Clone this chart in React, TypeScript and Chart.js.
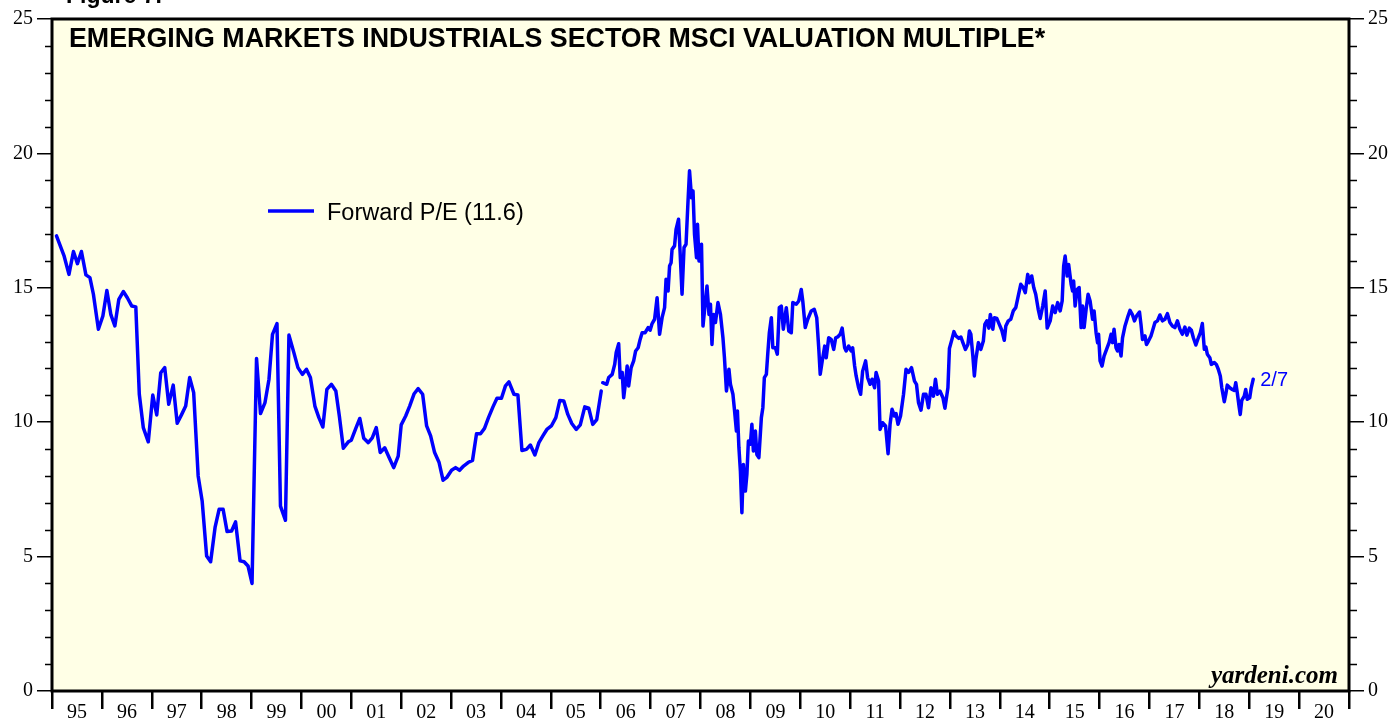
import React, { useEffect, useRef } from 'react';
import { Chart, registerables } from 'chart.js';

Chart.register(...registerables);

// Monthly forward P/E, 1995 - 2005 (decimal year, value)
const monthlyYears = [
  1995.09, 1995.24, 1995.34, 1995.43, 1995.51, 1995.59, 1995.68, 1995.76, 1995.83, 1995.93,
  1996.02, 1996.10, 1996.18, 1996.26, 1996.34, 1996.43, 1996.51, 1996.60, 1996.68, 1996.75,
  1996.83, 1996.93, 1997.02, 1997.10, 1997.18, 1997.26, 1997.34, 1997.43, 1997.51, 1997.60,
  1997.68, 1997.76, 1997.84, 1997.93, 1998.01, 1998.10, 1998.18, 1998.27, 1998.35, 1998.43,
  1998.51, 1998.60, 1998.68, 1998.77, 1998.85, 1998.93, 1999.01, 1999.10, 1999.18, 1999.27,
  1999.35, 1999.42, 1999.51, 1999.58, 1999.68, 1999.75, 1999.85, 1999.93, 2000.02, 2000.10,
  2000.18, 2000.27, 2000.35, 2000.43, 2000.51, 2000.60, 2000.69, 2000.76, 2000.84, 2000.94,
  2001.00, 2001.09, 2001.17, 2001.25, 2001.34, 2001.42, 2001.50, 2001.58, 2001.67, 2001.76,
  2001.85, 2001.94, 2002.00, 2002.09, 2002.17, 2002.26, 2002.34, 2002.43, 2002.51, 2002.59,
  2002.67, 2002.76, 2002.84, 2002.92, 2003.01, 2003.09, 2003.17, 2003.25, 2003.34, 2003.43,
  2003.51, 2003.59, 2003.67, 2003.75, 2003.84, 2003.92, 2004.01, 2004.09, 2004.16, 2004.26,
  2004.34, 2004.42, 2004.51, 2004.59, 2004.68, 2004.76, 2004.84, 2004.92, 2005.01, 2005.10,
  2005.18, 2005.26, 2005.34, 2005.42, 2005.51, 2005.59, 2005.68, 2005.76, 2005.84, 2005.92,
  2006.01,
];
const monthlyPE = [
  16.93, 16.2, 15.5, 16.35, 15.9, 16.35, 15.48, 15.38, 14.76, 13.46,
  13.95, 14.9, 14.0, 13.58, 14.57, 14.86, 14.63, 14.32, 14.29, 11.04,
  9.8, 9.27, 11.01, 10.27, 11.84, 12.03, 10.67, 11.38, 9.96, 10.29,
  10.6, 11.66, 11.1, 8.0, 7.07, 5.02, 4.81, 6.1, 6.76, 6.76,
  5.93, 5.95, 6.29, 4.84, 4.81, 4.65, 4.0, 12.37, 10.32, 10.73,
  11.6, 13.27, 13.67, 6.88, 6.35, 13.24, 12.58, 12.03, 11.78, 11.97,
  11.66, 10.6, 10.17, 9.82, 11.22, 11.41, 11.16, 10.23, 9.03, 9.27,
  9.33, 9.77, 10.14, 9.4, 9.24, 9.42, 9.8, 8.87, 9.05, 8.68,
  8.31, 8.74, 9.9, 10.23, 10.6, 11.06, 11.25, 11.04, 9.86, 9.49,
  8.87, 8.5, 7.84, 7.96, 8.21, 8.31, 8.21, 8.37, 8.5, 8.58,
  9.57, 9.57, 9.77, 10.17, 10.57, 10.89, 10.89, 11.35, 11.5, 11.04,
  11.01, 8.95, 8.99, 9.15, 8.78, 9.24, 9.49, 9.73, 9.86, 10.17,
  10.81, 10.79, 10.29, 9.95, 9.73, 9.9, 10.57, 10.52, 9.92, 10.1,
  11.16,
];

// Weekly forward P/E, 2006 - 2/7/2019 (decimal year, value)
const weeklyYears = [
  2006.04, 2006.12, 2006.16, 2006.23, 2006.28, 2006.31, 2006.36, 2006.39, 2006.43, 2006.46,
  2006.50, 2006.53, 2006.56, 2006.61, 2006.66, 2006.70, 2006.75, 2006.79, 2006.83, 2006.89,
  2006.95, 2006.99, 2007.03, 2007.08, 2007.13, 2007.18, 2007.23, 2007.28, 2007.31, 2007.35,
  2007.38, 2007.41, 2007.43, 2007.48, 2007.51, 2007.56, 2007.59, 2007.63, 2007.67, 2007.71,
  2007.75, 2007.78, 2007.82, 2007.85, 2007.88, 2007.92, 2007.94, 2007.97, 2008.02, 2008.05,
  2008.08, 2008.13, 2008.17, 2008.20, 2008.23, 2008.26, 2008.30, 2008.35, 2008.40, 2008.45,
  2008.48, 2008.52, 2008.57, 2008.60, 2008.65, 2008.68, 2008.72, 2008.74, 2008.77, 2008.80,
  2008.83, 2008.86, 2008.90, 2008.93, 2008.96, 2009.00, 2009.03, 2009.06, 2009.10, 2009.13,
  2009.17, 2009.22, 2009.25, 2009.28, 2009.32, 2009.35, 2009.38, 2009.42, 2009.45, 2009.50,
  2009.54, 2009.58, 2009.62, 2009.66, 2009.72, 2009.77, 2009.82, 2009.85, 2009.92, 2009.97,
  2010.02, 2010.05, 2010.10, 2010.15, 2010.22, 2010.28, 2010.33, 2010.37, 2010.40, 2010.44,
  2010.49, 2010.52, 2010.57, 2010.62, 2010.67, 2010.71, 2010.75, 2010.80, 2010.84, 2010.89,
  2010.92, 2010.97, 2011.02, 2011.05, 2011.09, 2011.12, 2011.17, 2011.21, 2011.25, 2011.31,
  2011.35, 2011.40, 2011.44, 2011.49, 2011.52, 2011.57, 2011.60, 2011.65, 2011.71, 2011.76,
  2011.80, 2011.84, 2011.89, 2011.92, 2011.96, 2012.01, 2012.07, 2012.12, 2012.17, 2012.23,
  2012.29, 2012.33, 2012.37, 2012.42, 2012.47, 2012.52, 2012.57, 2012.62, 2012.67, 2012.71,
  2012.75, 2012.80, 2012.86, 2012.90, 2012.96, 2012.99, 2013.04, 2013.08, 2013.12, 2013.18,
  2013.22, 2013.26, 2013.31, 2013.36, 2013.39, 2013.42, 2013.46, 2013.49, 2013.52, 2013.57,
  2013.62, 2013.67, 2013.70, 2013.74, 2013.78, 2013.81, 2013.86, 2013.89, 2013.94, 2013.99,
  2014.04, 2014.09, 2014.12, 2014.17, 2014.22, 2014.27, 2014.32, 2014.37, 2014.42, 2014.47,
  2014.51, 2014.56, 2014.59, 2014.64, 2014.68, 2014.72, 2014.77, 2014.81, 2014.86, 2014.91,
  2014.95, 2015.01, 2015.06, 2015.11, 2015.16, 2015.21, 2015.25, 2015.28, 2015.31, 2015.35,
  2015.38, 2015.43, 2015.46, 2015.48, 2015.51, 2015.55, 2015.59, 2015.63, 2015.66, 2015.69,
  2015.73, 2015.77, 2015.81, 2015.86, 2015.89, 2015.93, 2015.96, 2015.98, 2016.01, 2016.05,
  2016.09, 2016.14, 2016.19, 2016.23, 2016.26, 2016.29, 2016.33, 2016.36, 2016.39, 2016.43,
  2016.46, 2016.51, 2016.56, 2016.61, 2016.66, 2016.70, 2016.74, 2016.80, 2016.83, 2016.86,
  2016.91, 2016.94, 2016.98, 2017.03, 2017.06, 2017.11, 2017.16, 2017.21, 2017.26, 2017.31,
  2017.36, 2017.41, 2017.46, 2017.51, 2017.56, 2017.61, 2017.66, 2017.71, 2017.75, 2017.80,
  2017.84, 2017.88, 2017.93, 2017.98, 2018.02, 2018.06, 2018.10, 2018.13, 2018.16, 2018.21,
  2018.24, 2018.30, 2018.34, 2018.38, 2018.42, 2018.45, 2018.50, 2018.53, 2018.56, 2018.61,
  2018.66, 2018.70, 2018.73, 2018.76, 2018.80, 2018.82, 2018.85, 2018.90, 2018.93, 2018.96,
  2019.01, 2019.04, 2019.08,
];
const weeklyPE = [
  11.47, 11.41, 11.66, 11.78, 12.15, 12.59, 12.92, 11.66, 11.85, 10.91,
  11.53, 12.09, 11.35, 12.03, 12.28, 12.65, 12.77, 13.08, 13.33, 13.33,
  13.52, 13.42, 13.67, 13.83, 14.63, 13.27, 13.89, 14.26, 15.32, 14.88,
  15.81, 15.93, 16.43, 16.56, 17.17, 17.55, 16.37, 14.76, 16.5, 16.62,
  18.23, 19.35, 18.35, 18.6, 16.99, 16.12, 17.36, 16.0, 16.62, 13.58,
  14.14, 15.07, 14.01, 14.39, 12.89, 14.01, 13.71, 14.45, 14.01, 13.14,
  12.4, 11.16, 11.97, 11.41, 11.04, 10.48, 9.67, 10.42, 9.05, 8.18,
  6.63, 8.43, 7.44, 8.06, 9.3, 9.18, 9.92, 8.93, 9.67, 8.8,
  8.68, 10.17, 10.54, 11.66, 11.78, 12.59, 13.33, 13.89, 12.77, 12.77,
  12.53, 14.26, 14.32, 13.46, 14.26, 13.39, 13.33, 14.45, 14.39, 14.51,
  14.94, 14.51, 13.52, 13.83, 14.14, 14.2, 13.89, 12.77, 11.78, 12.28,
  12.83, 12.4, 13.14, 13.08, 12.71, 13.14, 13.17, 13.27, 13.5, 12.77,
  12.65, 12.83, 12.65, 12.77, 12.09, 11.72, 11.28, 11.04, 11.9, 12.28,
  11.66, 11.41, 11.6, 11.28, 11.85, 11.53, 9.73, 9.98, 9.86, 8.83,
  9.92, 10.48, 10.23, 10.32, 9.92, 10.23, 11.04, 11.97, 11.85, 12.03,
  11.53, 11.41, 10.73, 10.45, 11.04, 11.04, 10.54, 11.28, 10.97, 11.6,
  11.04, 11.16, 10.91, 10.52, 11.28, 12.74, 13.08, 13.37, 13.21, 13.12,
  13.17, 12.96, 12.71, 12.89, 13.39, 13.27, 12.46, 11.72, 12.34, 12.96,
  12.71, 13.02, 13.64, 13.77, 13.5, 14.01, 13.46, 13.89, 13.86, 13.64,
  13.42, 13.05, 13.58, 13.77, 13.83, 14.14, 14.26, 14.7, 15.13, 15.01,
  14.82, 15.5, 15.19, 15.44, 15.01, 14.76, 14.2, 13.86, 14.32, 14.88,
  13.5, 13.77, 14.32, 14.08, 14.45, 14.14, 14.51, 15.81, 16.18, 15.44,
  15.87, 15.13, 14.88, 15.25, 14.32, 14.94, 15.01, 13.52, 14.32, 13.52,
  14.2, 14.76, 14.51, 13.83, 14.14, 13.33, 12.96, 13.27, 12.28, 12.09,
  12.46, 12.71, 12.96, 13.27, 12.96, 13.46, 12.77, 12.65, 12.89, 12.46,
  13.14, 13.58, 13.89, 14.16, 13.99, 13.77, 13.95, 14.1, 13.64, 13.08,
  13.21, 12.89, 13.02, 13.21, 13.39, 13.71, 13.77, 13.99, 13.77, 13.83,
  14.04, 13.71, 13.58, 13.52, 13.77, 13.46, 13.27, 13.54, 13.24, 13.5,
  13.42, 13.14, 12.87, 13.14, 13.33, 13.67, 12.71, 12.8, 12.53, 12.4,
  12.15, 12.22, 12.15, 11.97, 11.72, 11.28, 10.76, 11.04, 11.38, 11.28,
  11.22, 11.18, 11.47, 11.1, 10.54, 10.29, 10.81, 10.97, 11.22, 10.85,
  10.91, 11.28, 11.6,
];

const yearLabels = [
  '95', '96', '97', '98', '99', '00', '01', '02', '03', '04', '05', '06', '07',
  '08', '09', '10', '11', '12', '13', '14', '15', '16', '17', '18', '19', '20',
];
const firstYear = 1995;
const lastYear = 2021;
const yMin = 0;
const yMax = 25;
const yMajorStep = 5;

const TITLE = 'EMERGING MARKETS INDUSTRIALS SECTOR MSCI VALUATION MULTIPLE*';
const SERIES_LABEL = 'Forward P/E (11.6)';
const END_LABEL = '2/7';
const SOURCE = 'yardeni.com';
const FIGURE = 'Figure 7.';

const SERIF = "'Liberation Serif', 'Times New Roman', serif";
const SANS = "'Liberation Sans', Arial, sans-serif";
const BLUE = '#0000FF';
const PLOT_BG = '#FFFFE6';

const decorPlugin = {
  id: 'decor',
  beforeDraw(chart: any) {
    const { ctx, chartArea } = chart;
    ctx.save();
    ctx.fillStyle = '#FFFFFF';
    ctx.fillRect(0, 0, chart.width, chart.height);
    ctx.fillStyle = PLOT_BG;
    ctx.fillRect(chartArea.left, chartArea.top, chartArea.right - chartArea.left, chartArea.bottom - chartArea.top);
    ctx.restore();
  },
  afterDraw(chart: any) {
    const { ctx, chartArea } = chart;
    const { left, right, top, bottom } = chartArea;
    const yScale = chart.scales.y;
    const xScale = chart.scales.x;
    ctx.save();

    // minor ticks
    ctx.strokeStyle = '#000';
    ctx.lineWidth = 1.5;
    for (let v = yMin; v <= yMax; v++) {
      if (v % yMajorStep === 0) continue;
      const py = Math.round(yScale.getPixelForValue(v)) + 0.5;
      ctx.beginPath();
      ctx.moveTo(left - 7, py);
      ctx.lineTo(left, py);
      ctx.moveTo(right, py);
      ctx.lineTo(right + 8, py);
      ctx.stroke();
    }

    // frame
    ctx.lineWidth = 3;
    ctx.strokeStyle = '#000';
    ctx.strokeRect(left, top, right - left, bottom - top);

    // figure caption (cut at top)
    ctx.fillStyle = '#000';
    ctx.font = `bold 23px ${SANS}`;
    ctx.textAlign = 'left';
    ctx.textBaseline = 'alphabetic';
    ctx.fillText(FIGURE, 66, 3);

    // title
    ctx.font = `bold 26.8px ${SANS}`;
    ctx.fillText(TITLE, 69, 47);

    // legend
    ctx.strokeStyle = BLUE;
    ctx.lineWidth = 3.5;
    ctx.beginPath();
    ctx.moveTo(268, 211);
    ctx.lineTo(314, 211);
    ctx.stroke();
    ctx.fillStyle = '#000';
    ctx.font = `23.5px ${SANS}`;
    ctx.fillText(SERIES_LABEL, 327, 220);

    // end label
    const lastX = weeklyYears[weeklyYears.length - 1];
    const lastY = weeklyPE[weeklyPE.length - 1];
    ctx.fillStyle = BLUE;
    ctx.font = `20px ${SANS}`;
    ctx.fillText(END_LABEL, xScale.getPixelForValue(lastX) + 7, yScale.getPixelForValue(lastY) + 7);

    // source
    ctx.fillStyle = '#000';
    ctx.font = `italic bold 25px ${SERIF}`;
    ctx.textAlign = 'right';
    ctx.fillText(SOURCE, right - 11, bottom - 8);

    ctx.restore();
  },
};

const yAxis = (position: 'left' | 'right', width: number) => ({
  type: 'linear',
  position,
  min: yMin,
  max: yMax,
  ticks: {
    stepSize: yMajorStep,
    color: '#000',
    font: { family: SERIF, size: 20 },
    padding: 4,
  },
  grid: {
    display: true,
    drawOnChartArea: false,
    drawTicks: true,
    tickLength: 15,
    color: '#000',
    lineWidth: 1.5,
  },
  border: { display: false },
  afterFit(scale: any) {
    scale.width = width;
  },
});

export default function App() {
  const canvasRef = useRef<HTMLCanvasElement | null>(null);

  useEffect(() => {
    if (!canvasRef.current) return;
    const monthly = monthlyYears.map((x, i) => ({ x, y: monthlyPE[i] }));
    const weekly = weeklyYears.map((x, i) => ({ x, y: weeklyPE[i] }));
    const lineStyle = {
      borderColor: BLUE,
      borderWidth: 3.5,
      pointRadius: 0,
      tension: 0,
      fill: false,
      borderJoinStyle: 'round' as const,
      borderCapStyle: 'round' as const,
      yAxisID: 'y',
    };
    const chart = new Chart(canvasRef.current, {
      type: 'line',
      data: {
        datasets: [
          { label: SERIES_LABEL, data: monthly, ...lineStyle },
          { label: SERIES_LABEL + ' weekly', data: weekly, ...lineStyle },
        ],
      },
      options: {
        animation: false,
        responsive: false,
        maintainAspectRatio: false,
        devicePixelRatio: 1,
        parsing: false,
        normalized: true,
        layout: { padding: { top: 19, left: 0, right: 0, bottom: 0 } },
        plugins: {
          legend: { display: false },
          title: { display: false },
          tooltip: { enabled: false },
        },
        scales: {
          x: {
            type: 'linear',
            min: firstYear,
            max: lastYear,
            ticks: {
              stepSize: 1,
              autoSkip: false,
              maxRotation: 0,
              minRotation: 0,
              labelOffset: 25,
              padding: -8,
              color: '#000',
              font: { family: SERIF, size: 20 },
              callback: (value: any) => {
                const i = Math.round(Number(value)) - firstYear;
                return yearLabels[i] ?? '';
              },
            },
            grid: {
              display: true,
              drawOnChartArea: false,
              drawTicks: true,
              tickLength: 18,
              color: '#000',
              lineWidth: 2.5,
            },
            border: { display: false },
            afterFit(scale: any) {
              scale.height = 30;
            },
          },
          y: yAxis('left', 52),
          y2: yAxis('right', 46),
        },
      } as any,
      plugins: [decorPlugin],
    });
    return () => chart.destroy();
  }, []);

  return (
    <div style={{ position: 'fixed', left: 0, top: 0, width: 1395, height: 721, background: '#fff' }}>
      <canvas ref={canvasRef} width={1395} height={721} style={{ display: 'block', width: 1395, height: 721 }} />
    </div>
  );
}
